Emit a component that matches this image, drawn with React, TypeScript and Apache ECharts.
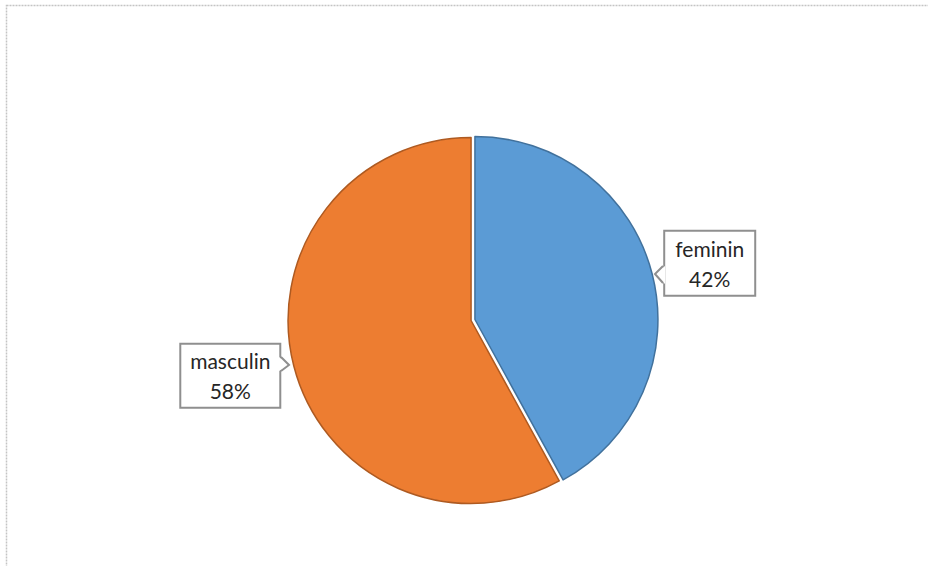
import React, { useEffect, useRef } from "react";
import * as echarts from "echarts";

const categories = ["feminin", "masculin"];
const values = [42, 58];
const colors = ["#5B9BD5", "#ED7D31"];
const borderColors = ["#41719C", "#AE5A21"];

export default function App() {
  const ref = useRef<HTMLDivElement>(null);
  useEffect(() => {
    const chart = echarts.init(ref.current!, null, { renderer: "svg" });
    const labelBoxes = [
      { w: 91, h: 65, dx: 8, dy: -7 },
      { w: 100, h: 64, dx: -14, dy: 6 },
    ];
    chart.setOption({
      animation: false,
      backgroundColor: "#ffffff",
      graphic: [
        {
          type: "rect",
          shape: { x: 6.5, y: 5.5, width: 1000, height: 700 },
          style: { fill: "none", stroke: "#c4c4c4", lineWidth: 1.5, lineDash: [2, 1] },
          silent: true,
          z: 0,
        },
        {
          type: "polygon",
          shape: { points: [[665, 266], [655, 274], [665, 284]] },
          style: { fill: "#ffffff" },
          z: 100,
        },
        {
          type: "polyline",
          shape: { points: [[663, 266], [655, 274], [663, 283]] },
          style: { stroke: "#8f8f8f", lineWidth: 2, fill: "none" },
          z: 101,
        },
        {
          type: "polygon",
          shape: { points: [[279, 357], [289, 365], [279, 371]] },
          style: { fill: "#ffffff" },
          z: 100,
        },
        {
          type: "polyline",
          shape: { points: [[281, 357], [289, 365], [281, 371]] },
          style: { stroke: "#8f8f8f", lineWidth: 2, fill: "none" },
          z: 101,
        },
      ],
      series: [
        {
          type: "pie",
          center: [473, 320],
          radius: 183,
          startAngle: 90,
          clockwise: true,
          selectedMode: "multiple",
          selectedOffset: 2,
          data: categories.map((name, i) => ({
            name,
            value: values[i],
            selected: true,
            itemStyle: {
              color: colors[i],
              borderColor: borderColors[i],
              borderWidth: 1.5,
            },
            label: {
              width: labelBoxes[i].w - 2,
              height: labelBoxes[i].h - 8,
            },
          })),
          label: {
            show: true,
            position: "outside",
            formatter: (p: any) => `${p.name}\n${Math.round(p.percent)}%`,
            fontFamily: "Lato, 'Open Sans', sans-serif",
            fontSize: 21,
            lineHeight: 30,
            color: "#262626",
            align: "center",
            verticalAlign: "middle",
            backgroundColor: "#ffffff",
            borderColor: "#8f8f8f",
            borderWidth: 2,
            borderRadius: 0,
            padding: [3, 0],
          },
          labelLine: { show: false },
          labelLayout: (params: any) => {
            const b = labelBoxes[params.dataIndex];
            return { dx: b.dx, dy: b.dy, align: "center" };
          },
        },
      ],
    });
    return () => chart.dispose();
  }, []);
  return (
    <div
      ref={ref}
      style={{ position: "fixed", left: 0, top: 0, width: 928, height: 566 }}
    />
  );
}
